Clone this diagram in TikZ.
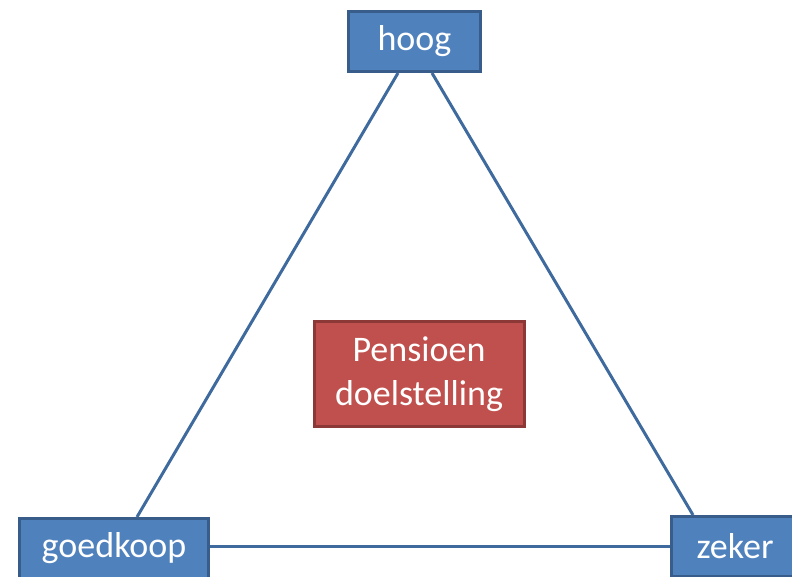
\documentclass[tikz,border=0pt]{standalone}
\usepackage{fontspec}
\setmainfont{Carlito}
\definecolor{boxblue}{HTML}{4F81BD}
\definecolor{edgeblue}{HTML}{385D8A}
\definecolor{lineblue}{HTML}{3F6A9E}
\definecolor{boxred}{HTML}{C0504D}
\definecolor{edgered}{HTML}{8C3836}
\begin{document}
\begin{tikzpicture}[x=1pt, y=-1pt,
  every node/.style={rectangle, line width=3pt, text=white, font=\fontsize{36}{44}\selectfont, align=center, minimum height=60pt},
  corner/.style={fill=boxblue, draw=edgeblue},
  goal/.style={fill=boxred, draw=edgered, minimum height=105pt, minimum width=210pt}]
  \clip (0,0) rectangle (792,576);
  % corner boxes
  \node[corner, minimum width=132pt] (hoog) at (414.5,41.5) {hoog};
  \node[corner, minimum width=189pt] (goedkoop) at (114,548.5) {goedkoop};
  \node[corner, minimum width=127pt] (zeker) at (735,546.5) {zeker};
  % centre box
  \node[goal] (doel) at (419,374) {Pensioen\\doelstelling};
  % connector ends
  \coordinate (hl) at ([xshift=-16.5pt]hoog.south);
  \coordinate (hr) at ([xshift=17.5pt]hoog.south);
  \coordinate (gt) at ([xshift=23pt]goedkoop.north);
  \coordinate (zt) at ([xshift=-42pt]zeker.north);
  \coordinate (gr) at (goedkoop.east |- zeker.west);
  % triangle edges
  \foreach \a/\b in {hl/gt, hr/zt, gr/zeker.west}
    \draw[lineblue, line width=3pt] (\a) -- (\b);
\end{tikzpicture}
\end{document}
